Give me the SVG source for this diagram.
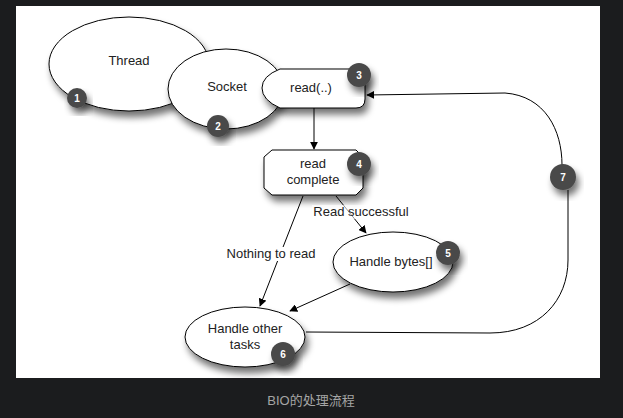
<svg xmlns="http://www.w3.org/2000/svg" width="623" height="418" viewBox="0 0 623 418">
<defs>
<filter id="sh" x="-30%" y="-30%" width="160%" height="170%">
<feGaussianBlur in="SourceAlpha" stdDeviation="3.5"/>
<feOffset dx="3" dy="6" result="b"/>
<feComponentTransfer><feFuncA type="linear" slope="0.55"/></feComponentTransfer>
<feMerge><feMergeNode/><feMergeNode in="SourceGraphic"/></feMerge>
</filter>
<marker id="ah" viewBox="0 0 10 10" refX="9" refY="5" markerWidth="8" markerHeight="8" orient="auto" markerUnits="userSpaceOnUse">
<path d="M0,0 L10,5 L0,10 z" fill="#000"/>
</marker>
<style>
.node{fill:#fff;stroke:#000;stroke-width:1;filter:url(#sh)}
.t{font-family:"Liberation Sans",Arial,sans-serif;font-size:13px;fill:#222;text-anchor:middle}
.b{fill:#4a4a4a;filter:url(#sh)}
.bt{font-family:"Liberation Sans",Arial,sans-serif;font-size:10px;font-weight:bold;fill:#fff;text-anchor:middle}
.c{fill:none;stroke:#000;stroke-width:1}
</style>
</defs>
<rect width="623" height="418" fill="#1b1c1e"/>
<rect x="16" y="6" width="584" height="372" fill="#fff"/>

<g id="thread">
<ellipse class="node" cx="129" cy="64" rx="80" ry="47"/>
<text class="t" x="129" y="65">Thread</text>
<circle class="b" cx="77" cy="98" r="10"/>
<text class="bt" x="77" y="102">1</text>
</g>

<g id="socket">
<ellipse class="node" cx="226" cy="89" rx="58" ry="40"/>
<text class="t" x="227" y="91">Socket</text>
<circle class="b" cx="218" cy="126" r="11"/>
<text class="bt" x="218" y="130">2</text>
</g>

<g id="read">
<path class="node" d="M280,69 L356,69 Q365,69 365,78 L365,99 Q365,108 356,108 L280,108 Q262,100 262,88 Q262,76 280,69 Z"/>
<text class="t" x="311" y="92">read(..)</text>
<circle class="b" cx="359" cy="75" r="12"/>
<text class="bt" x="359" y="79">3</text>
</g>

<g id="readcomplete">
<path class="node" d="M272,150 L356,150 L363,157 L363,188 L356,195 L272,195 L264,188 L264,157 Z"/>
<text class="t" x="313" y="168">read</text>
<text class="t" x="313" y="184">complete</text>
<circle class="b" cx="359" cy="164" r="12"/>
<text class="bt" x="359" y="168">4</text>
</g>

<g id="handlebytes">
<ellipse class="node" cx="393" cy="262" rx="60" ry="30"/>
<text class="t" x="391" y="266">Handle bytes[]</text>
<circle class="b" cx="448" cy="253" r="12"/>
<text class="bt" x="448" y="257">5</text>
</g>

<g id="handleother">
<ellipse class="node" cx="245" cy="337" rx="60" ry="30"/>
<text class="t" x="245" y="333">Handle other</text>
<text class="t" x="245" y="349">tasks</text>
<circle class="b" cx="283" cy="354" r="12"/>
<text class="bt" x="283" y="358">6</text>
</g>

<g id="connectors">
<line class="c" x1="314" y1="108" x2="314" y2="149" marker-end="url(#ah)"/>
<line class="c" x1="303" y1="196" x2="260" y2="306" marker-end="url(#ah)"/>
<line class="c" x1="336" y1="196" x2="366" y2="233" marker-end="url(#ah)"/>
<line class="c" x1="350" y1="284" x2="290" y2="311" marker-end="url(#ah)"/>
<path class="c" d="M306,332 L490,333 C540,333 568,300 568,260 L568,190 M562,165 C562,130 545,96 505,93 L367,95" marker-end="url(#ah)"/>
<rect x="224" y="247" width="96" height="14" fill="#fff"/>
<text class="t" x="271" y="258">Nothing to read</text>
<rect x="312" y="205" width="100" height="14" fill="#fff" opacity="0.6"/>
<text class="t" x="361" y="216">Read successful</text>
<circle class="b" cx="563" cy="177" r="13"/>
<text class="bt" x="563" y="181">7</text>
</g>

<text x="311" y="405" font-family="'Liberation Sans','Noto Sans CJK SC',sans-serif" font-size="13" fill="#a5a5a5" text-anchor="middle">BIO的处理流程</text>
</svg>
